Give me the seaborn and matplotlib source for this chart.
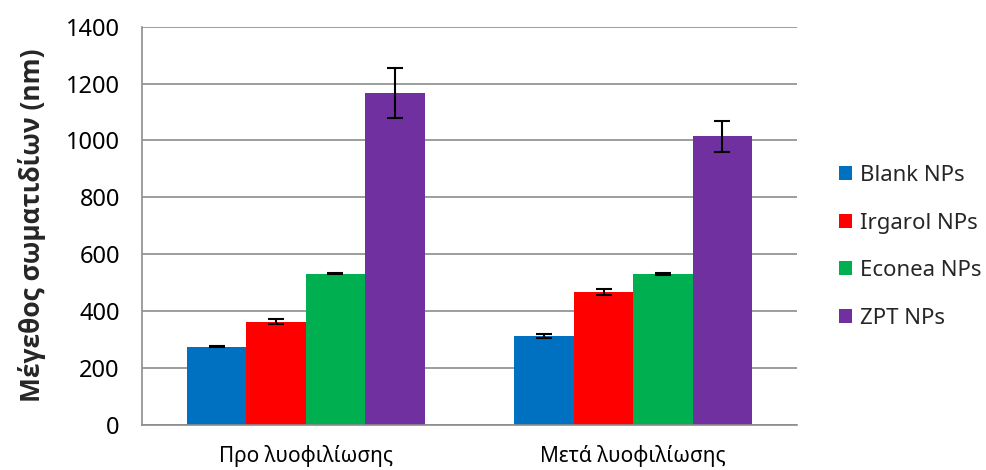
import matplotlib
matplotlib.use("Agg")
import matplotlib.pyplot as plt
import seaborn as sns
import pandas as pd
import numpy as np
from matplotlib.patches import Patch

# Mean particle size (nm) and standard deviation, before / after freeze-drying
conditions = ["Προ λυοφιλίωσης", "Μετά λυοφιλίωσης"]
formulations = ["Blank NPs", "Irgarol NPs", "Econea NPs", "ZPT NPs"]
size_before = [274, 362, 531, 1166]
size_after = [312, 466, 530, 1014]
err_before = [3, 9, 3, 88]
err_after = [8, 12, 3, 55]
colors = ["#0070C0", "#FF0000", "#00B050", "#7030A0"]

rows = []
for cond, sizes, errs in [(conditions[0], size_before, err_before),
                          (conditions[1], size_after, err_after)]:
    for f, s, e in zip(formulations, sizes, errs):
        rows.append({"cond": cond, "form": f, "size": s, "err": e})
df = pd.DataFrame(rows)

sns.set_theme(style="white")
plt.rcParams["font.family"] = ["Noto Sans", "DejaVu Sans"]

fig = plt.figure(figsize=(9.87, 4.70), dpi=100)
ax = fig.add_axes([142 / 987, 1 - 424.5 / 470, 655 / 987, (424.5 - 26.7) / 470])

sns.barplot(data=df, x="cond", y="size", hue="form", order=conditions,
            hue_order=formulations, palette=colors, width=0.726, gap=0,
            errorbar=None, saturation=1, ax=ax, legend=False, zorder=2,
            linewidth=0)

# Error bars placed at the centre of each drawn bar
for cond_idx, cond in enumerate(conditions):
    for f_idx, f in enumerate(formulations):
        patch = ax.patches[f_idx * len(conditions) + cond_idx]
        row = df[(df.cond == cond) & (df.form == f)].iloc[0]
        xc = patch.get_x() + patch.get_width() / 2
        ax.errorbar(xc, row["size"], yerr=row["err"], fmt="none",
                    ecolor="black", elinewidth=1.5, capsize=5.5,
                    capthick=1.5, zorder=3)

ax.set_xlim(-0.5, 1.5)
ax.set_ylim(0, 1400)
ax.set_yticks(np.arange(0, 1401, 200))
ax.yaxis.grid(True, color="#8c8c8c", linewidth=1.2, zorder=0)
ax.set_axisbelow(True)
for side in ["top", "right"]:
    ax.spines[side].set_visible(False)
for side in ["left", "bottom"]:
    ax.spines[side].set_color("#8c8c8c")
    ax.spines[side].set_linewidth(1.2)
ax.tick_params(axis="y", length=0, labelsize=17, colors="black", pad=16)
ax.tick_params(axis="x", length=0, labelsize=15, colors="black", pad=15)
ax.set_xlabel("")
ax.set_ylabel("Μέγεθος σωματιδίων (nm)", fontsize=19, fontweight="bold",
              family=["Open Sans", "DejaVu Sans"], labelpad=14)

handles = [Patch(facecolor=c, edgecolor="none") for c in colors]
fig.legend(handles, formulations, loc="upper left",
           bbox_to_anchor=(830 / 987, 1 - 156 / 470), frameon=False,
           fontsize=16, handlelength=0.6, handleheight=0.6,
           handletextpad=0.35, labelspacing=1.2, borderaxespad=0)

fig.savefig("out.png", dpi=100, facecolor="white")
